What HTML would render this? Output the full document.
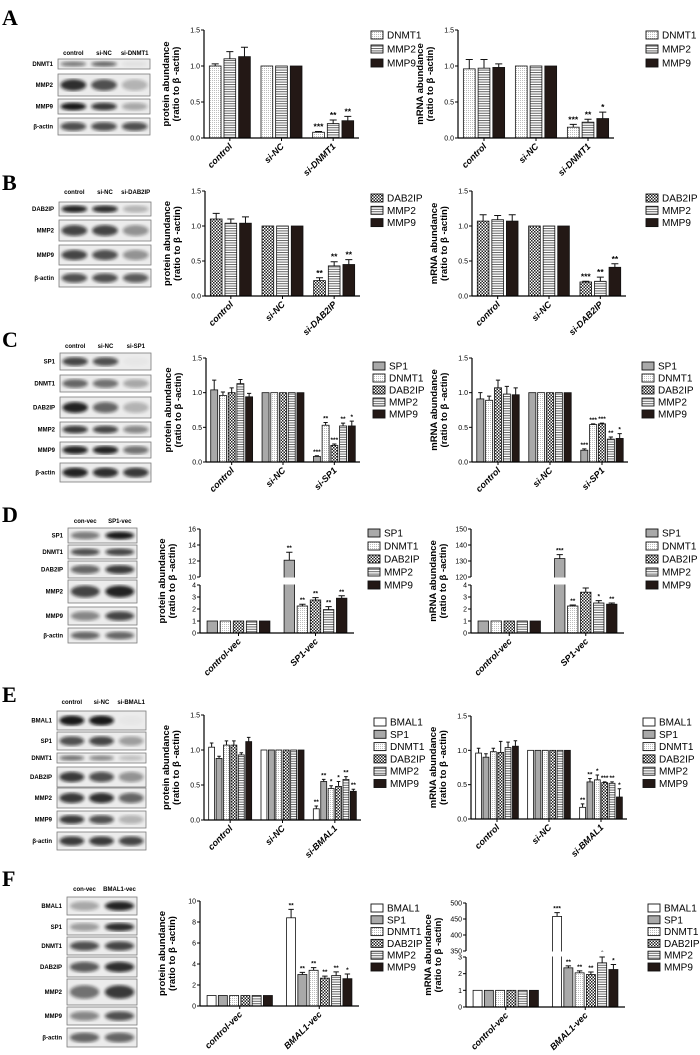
<!DOCTYPE html>
<html><head><meta charset="utf-8">
<style>
html,body{margin:0;padding:0;background:#fff;width:700px;height:1055px;overflow:hidden}
svg{display:block;font-family:"Liberation Sans",Arial,sans-serif}
</style></head>
<body>
<svg id="fig" width="700" height="1055" viewBox="0 0 700 1055" xmlns="http://www.w3.org/2000/svg">
<defs>
<pattern id="p-dots" width="2" height="2" patternUnits="userSpaceOnUse"><rect width="2" height="2" fill="#fff"/><rect width="0.8" height="0.8" fill="#999"/></pattern>
<pattern id="p-hs" width="3" height="2.4" patternUnits="userSpaceOnUse"><rect width="3" height="2.4" fill="#fff"/><rect y="0" width="3" height="1" fill="#666"/></pattern>
<pattern id="p-ck" width="3" height="3" patternUnits="userSpaceOnUse"><rect width="3" height="3" fill="#fff"/><rect width="1.5" height="1.5" fill="#222"/><rect x="1.5" y="1.5" width="1.5" height="1.5" fill="#222"/></pattern>
<filter id="blur"><feGaussianBlur stdDeviation="1.6"/></filter>
</defs>
</svg>
<script>
// ---------- data ----------
const catsA = ["control","si-NC","si-DNMT1"];
const seriesA = ["DNMT1","MMP2","MMP9"];
const aProtVals = [[1.0,1.0,0.08],[1.1,1.0,0.2],[1.13,1.0,0.24]];
const aProtErr = [[0.03,0,0.01],[0.1,0,0.05],[0.13,0,0.06]];
const aProtStars = [["","","***"],["","","**"],["","","**"]];
const aMrnaVals = [[0.96,1,0.15],[0.97,1,0.22],[0.98,1,0.27]];
const aMrnaErr = [[0.13,0,0.04],[0.12,0,0.04],[0.05,0,0.09]];
const aMrnaStars = [["","","***"],["","","**"],["","","*"]];

const catsB = ["control","si-NC","si-DAB2IP"];
const seriesB = ["DAB2IP","MMP2","MMP9"];
const bProtVals = [[1.1,1,0.22],[1.04,1,0.43],[1.04,1,0.45]];
const bProtErr = [[0.08,0,0.04],[0.06,0,0.06],[0.09,0,0.07]];
const bProtStars = [["","","**"],["","","**"],["","","**"]];
const bMrnaVals = [[1.07,1,0.2],[1.09,1,0.21],[1.07,1,0.41]];
const bMrnaErr = [[0.09,0,0.01],[0.06,0,0.06],[0.09,0,0.05]];
const bMrnaStars = [["","","***"],["","","**"],["","","**"]];

const catsC = ["control","si-NC","si-SP1"];
const seriesC = ["SP1","DNMT1","DAB2IP","MMP2","MMP9"];
const cProtVals = [[1.04,1,0.08],[0.96,1,0.53],[1.0,1,0.24],[1.13,1,0.52],[0.94,1,0.52]];
const cProtErr = [[0.14,0,0.01],[0.05,0,0.04],[0.07,0,0.02],[0.06,0,0.04],[0.05,0,0.07]];
const cProtStars = [["","","***"],["","","**"],["","","***"],["","","**"],["","","*"]];
const cMrnaVals = [[0.91,1,0.17],[0.89,1,0.54],[1.07,1,0.55],[0.98,1,0.33],[0.97,1,0.34]];
const cMrnaErr = [[0.09,0,0.02],[0.06,0,0.01],[0.11,0,0.01],[0.11,0,0.03],[0.1,0,0.07]];
const cMrnaStars = [["","","***"],["","","***"],["","","***"],["","","**"],["","","*"]];

const catsD = ["control-vec","SP1-vec"];
const seriesD = ["SP1","DNMT1","DAB2IP","MMP2","MMP9"];
const dProtVals = [[1,12.1],[1,2.25],[1,2.75],[1,1.95],[1,2.9]];
const dProtErr = [[0,1.0],[0,0.15],[0,0.2],[0,0.25],[0,0.2]];
const dProtStars = [["","**"],["","**"],["","**"],["","**"],["","**"]];
const dMrnaVals = [[1,131.5],[1,2.25],[1,3.4],[1,2.5],[1,2.4]];
const dMrnaErr = [[0,2.5],[0,0.08],[0,0.35],[0,0.2],[0,0.1]];
const dMrnaStars = [["","***"],["","**"],["","**"],["","*"],["","**"]];

const catsE = ["control","si-NC","si-BMAL1"];
const seriesE = ["BMAL1","SP1","DNMT1","DAB2IP","MMP2","MMP9"];
const eProtVals = [[1.04,1,0.16],[0.88,1,0.55],[1.07,1,0.45],[1.07,1,0.48],[0.93,1,0.58],[1.12,1,0.41]];
const eProtErr = [[0.06,0,0.04],[0.03,0,0.03],[0.06,0,0.04],[0.06,0,0.07],[0.03,0,0.04],[0.06,0,0.03]];
const eProtStars = [["","","**"],["","","**"],["","","*"],["","","*"],["","","**"],["","","**"]];
const eMrnaVals = [[0.96,1,0.17],[0.9,1,0.54],[0.98,1,0.57],[0.97,1,0.53],[1.04,1,0.52],[1.06,1,0.32]];
const eMrnaErr = [[0.07,0,0.05],[0.05,0,0.05],[0.05,0,0.07],[0.16,0,0.01],[0.08,0,0.02],[0.08,0,0.12]];
const eMrnaStars = [["","","**"],["","","**"],["","","*"],["","","***"],["","","**"],["","","*"]];

const catsF = ["control-vec","BMAL1-vec"];
const seriesF = ["BMAL1","SP1","DNMT1","DAB2IP","MMP2","MMP9"];
const fProtVals = [[1,8.4],[1,3.0],[1,3.4],[1,2.65],[1,2.9],[1,2.6]];
const fProtErr = [[0,0.8],[0,0.2],[0,0.25],[0,0.2],[0,0.35],[0,0.45]];
const fProtStars = [["","**"],["","**"],["","**"],["","**"],["","**"],["","*"]];
const fMrnaVals = [[1,458],[1,2.35],[1,2.05],[1,1.95],[1,2.65],[1,2.25]];
const fMrnaErr = [[0,12],[0,0.12],[0,0.12],[0,0.15],[0,0.35],[0,0.3]];
const fMrnaStars = [["","***"],["","**"],["","**"],["","**"],["","*"],["","*"]];

const ticks15 = [0,0.5,1.0,1.5];
const ticksD1lo = [0,1,2,3,4];
const ticksD1hi = [10,12,14,16];
const ticksD2hi = [120,130,140,150];
const ticksF1 = [0,2,4,6,8,10];
const ticksF2lo = [0,1,2,3];
const ticksF2hi = [350,400,450,500];

// ---------- drawing ----------
const NS = "http://www.w3.org/2000/svg";
const svg = document.getElementById("fig");
function mk(tag, attrs, parent){
  const e = document.createElementNS(NS, tag);
  for (const k in attrs) e.setAttribute(k, attrs[k]);
  (parent || svg).appendChild(e);
  return e;
}
function fill(name){
  return {DNMT1:"url(#p-dots)",MMP2:"url(#p-hs)",MMP9:"#231815",DAB2IP:"url(#p-ck)",SP1:"#a9a9a9",BMAL1:"#fff"}[name];
}

function chart(c){
  const g = mk("g", {});
  
  
  const segs = c.segs;
  function y(v){
    for (let i = 0; i < segs.length; i++){
      const s = segs[i];
      if (v <= s.d1 || i === segs.length - 1){
        if (v < s.d0 && i > 0) return segs[i-1].p1;
        return s.p0 + (v - s.d0) / (s.d1 - s.d0) * (s.p1 - s.p0);
      }
    }
  }
  const y0 = y(0);
  const n = c.cats.length, k = c.series.length;
  const gw = (c.xEnd - c.ax) / n, span = gw * 0.85, step = span / k, bw = step * 0.8;
  for (let i = 0; i < n; i++){
    for (let j = 0; j < k; j++){
      const v = c.vals[j][i], e = c.errs[j][i];
      const x = c.ax + gw * (i + 0.5) - span / 2 + step * j + (step - bw) / 2;
      const top = y(v);
      const r = mk("rect", {x:x.toFixed(2), y:top.toFixed(2), width:bw.toFixed(2), height:(y0-top).toFixed(2), fill:fill(c.series[j]), stroke:"#111", "stroke-width":"0.8"}, g);
      
      
      const cx = x + bw / 2;
      if (e > 0){
        const ye = y(v + e);
        const eb = mk("path", {d:`M${cx} ${top}V${ye}M${cx-bw*0.3} ${ye}H${cx+bw*0.3}`, stroke:"#111", "stroke-width":"1", fill:"none"}, g);
        
        
      }
      const st = c.stars[j][i];
      if (st){
        const t = mk("text", {x:cx, y:(y(v+e)-2).toFixed(1), "font-size": k > 3 ? "6.5" : "8.5", "text-anchor":"middle", "font-weight":"bold"}, g);
        t.textContent = st;
        
        
      }
    }
  }
  if (segs.length > 1){
    const br = mk("rect", {x:c.ax-5, y:segs[1].p0+0.5, width:c.xEnd-c.ax+6, height:segs[0].p1-segs[1].p0-1, fill:"#fff"}, g);
    
    
  }
  segs.forEach(s => {
    const ya = mk("line", {x1:c.ax, x2:c.ax, y1:s.p0, y2:s.p1, stroke:"#000", "stroke-width":"1.2"}, g);
    
    
    s.ticks.forEach(tv => {
      const ty = s.p0 + (tv - s.d0) / (s.d1 - s.d0) * (s.p1 - s.p0);
      mk("line", {x1:c.ax-3, x2:c.ax, y1:ty, y2:ty, stroke:"#000", "stroke-width":"1"}, g);
      const tl = mk("text", {x:c.ax-4, y:ty+2.5, "font-size":"7", "text-anchor":"end"}, g);
      tl.textContent = s.fmt ? tv.toFixed(1) : String(tv);
      
      
    });
  });
  const xa = mk("line", {x1:c.ax, x2:c.xEnd, y1:y0, y2:y0, stroke:"#000", "stroke-width":"1.2"}, g);
  
  
  for (let i = 0; i < n; i++){
    const cx = c.ax + gw * (i + 0.5);
    mk("line", {x1:cx, x2:cx, y1:y0, y2:y0+3, stroke:"#000", "stroke-width":"1"}, g);
    const xl = mk("text", {x:cx+3, y:y0+9, "font-size":"9", "font-weight":"bold", "font-style":"italic", "text-anchor":"end", transform:`rotate(-45 ${cx+3} ${y0+9})`}, g);
    xl.textContent = c.cats[i];
    
    
  }
  const ym = (y0 + segs[segs.length-1].p1) / 2;
  [[c.ylab[0], c.ax-35],[c.ylab[1], c.ax-25]].forEach(([txt, tx]) => {
    const t = mk("text", {x:tx, y:ym, "font-size":"9.5", "font-weight":"bold", "text-anchor":"middle", transform:`rotate(-90 ${tx} ${ym})`}, g);
    t.textContent = txt;
    
    
  });
  c.series.forEach((s, j) => {
    const ly = c.legY + j * c.legStep;
    const lb = mk("rect", {x:c.legX, y:ly-4, width:12, height:8, fill:fill(s), stroke:"#111", "stroke-width":"0.9"}, g);
    
    
    const lt = mk("text", {x:c.legX+16, y:ly+3.5, "font-size":"10"}, g);
    lt.textContent = s;
    
    
  });
}

function blot(b){
  const g = mk("g", {});
  
  
  const w = b.x1 - b.x0, nl = b.header.length;
  const lanes = b.header.map((h, i) => b.x0 + w * (2*i + 1) / (2*nl));
  b.header.forEach((h, i) => {
    const t = mk("text", {x:lanes[i], y:b.hy, "font-size":"6", "font-weight":"bold", "text-anchor":"middle"}, g);
    t.textContent = h;
    
    
  });
  b.rows.forEach((r, ri) => {
    const [name, y0, y1, ints] = r;
    const cid = b.name + "-c" + ri;
    const cp = mk("clipPath", {id:cid}, g);
    mk("rect", {x:b.x0, y:y0, width:w, height:y1-y0}, cp);
    const box = mk("rect", {x:b.x0, y:y0, width:w, height:y1-y0, fill:"#ececec", stroke:"#7a7a7a", "stroke-width":"0.8"}, g);
    
    
    const bg = mk("g", {"clip-path":`url(#${cid})`}, g);
    ints.forEach((v, i) => {
      mk("ellipse", {cx:lanes[i], cy:(y0+y1)/2, rx:w/nl*0.42, ry:Math.max(2.5,(y1-y0)*0.26), fill:"#111", opacity:v, filter:"url(#blur)"}, bg);
    });
    const t = mk("text", {x:b.x0-5, y:(y0+y1)/2+2, "font-size":"6", "font-weight":"bold", "text-anchor":"end"}, g);
    t.textContent = name;
    
    
  });
}

function letter(ch, x, y){
  const t = mk("text", {x:x, y:y, "font-size":"22", "font-weight":"bold", "font-family":"Liberation Serif, serif"});
  t.textContent = ch;
  
  
}

const PL = ["protein abundance","(ratio to β -actin)"];
const ML = ["mRNA abundance","(ratio to β -actin)"];
function seg(d0,d1,p0,p1,ticks,fmt){ return {d0:d0,d1:d1,p0:p0,p1:p1,ticks:ticks,fmt:fmt}; }

letter("A", 2, 25);
blot({name:"blot-a", x0:58, x1:150, hy:55, header:["control","si-NC","si-DNMT1"], rows:[
  ["DNMT1",59,69,[0.5,0.6,0.05]],["MMP2",74,96,[0.85,0.7,0.25]],["MMP9",99,114,[0.95,0.8,0.3]],["β-actin",118,135,[0.7,0.7,0.7]]]});
chart({name:"chart-a-protein", ax:204, xEnd:359, segs:[seg(0,1.5,138,30,ticks15,true)], cats:catsA, series:seriesA, vals:aProtVals, errs:aProtErr, stars:aProtStars, ylab:PL, legX:371, legY:35, legStep:14});
chart({name:"chart-a-mrna", ax:458, xEnd:614, segs:[seg(0,1.5,138,30,ticks15,true)], cats:catsA, series:seriesA, vals:aMrnaVals, errs:aMrnaErr, stars:aMrnaStars, ylab:ML, legX:646, legY:35, legStep:14});

letter("B", 2, 190);
blot({name:"blot-b", x0:59, x1:151, hy:194, header:["control","si-NC","si-DAB2IP"], rows:[
  ["DAB2IP",202,216,[0.9,0.85,0.25]],["MMP2",220,241,[0.75,0.75,0.4]],["MMP9",245,265,[0.75,0.7,0.4]],["β-actin",269,287,[0.7,0.7,0.65]]]});
chart({name:"chart-b-protein", ax:205, xEnd:360, segs:[seg(0,1.5,296,191,ticks15,true)], cats:catsB, series:seriesB, vals:bProtVals, errs:bProtErr, stars:bProtStars, ylab:PL, legX:371, legY:198, legStep:12.3});
chart({name:"chart-b-mrna", ax:472, xEnd:626, segs:[seg(0,1.5,296,191,ticks15,true)], cats:catsB, series:seriesB, vals:bMrnaVals, errs:bMrnaErr, stars:bMrnaStars, ylab:ML, legX:646, legY:198, legStep:12.3});

letter("C", 2, 347);
blot({name:"blot-c", x0:60, x1:151, hy:348, header:["control","si-NC","si-SP1"], rows:[
  ["SP1",353,370,[0.75,0.7,0.02]],["DNMT1",375,392,[0.6,0.55,0.3]],["DAB2IP",397,418,[0.9,0.6,0.25]],["MMP2",422,437,[0.8,0.75,0.45]],["MMP9",442,458,[0.9,0.9,0.55]],["β-actin",463,482,[0.9,0.85,0.8]]]});
chart({name:"chart-c-protein", ax:206, xEnd:360, segs:[seg(0,1.5,462,358,ticks15,true)], cats:catsC, series:seriesC, vals:cProtVals, errs:cProtErr, stars:cProtStars, ylab:PL, legX:373, legY:366, legStep:12});
chart({name:"chart-c-mrna", ax:472, xEnd:628, segs:[seg(0,1.5,462,358,ticks15,true)], cats:catsC, series:seriesC, vals:cMrnaVals, errs:cMrnaErr, stars:cMrnaStars, ylab:ML, legX:642, legY:366, legStep:12});

letter("D", 2, 522);
blot({name:"blot-d", x0:68, x1:137, hy:523, header:["con-vec","SP1-vec"], rows:[
  ["SP1",528,543,[0.5,0.95]],["DNMT1",545,559,[0.7,0.75]],["DAB2IP",561,578,[0.6,0.8]],["MMP2",580,603,[0.75,0.9]],["MMP9",607,625,[0.45,0.75]],["β-actin",628,643,[0.6,0.6]]]});
chart({name:"chart-d-protein", ax:200, xEnd:354, segs:[seg(0,4,633,585,ticksD1lo,false), seg(10,16,577,529,ticksD1hi,false)], cats:catsD, series:seriesD, vals:dProtVals, errs:dProtErr, stars:dProtStars, ylab:PL, legX:368, legY:533, legStep:13});
chart({name:"chart-d-mrna", ax:471, xEnd:624, segs:[seg(0,4,633,585,ticksD1lo,false), seg(120,150,577,529,ticksD2hi,false)], cats:catsD, series:seriesD, vals:dMrnaVals, errs:dMrnaErr, stars:dMrnaStars, ylab:ML, legX:646, legY:533, legStep:13});

letter("E", 2, 702);
blot({name:"blot-e", x0:57, x1:146, hy:704, header:["control","si-NC","si-BMAL1"], rows:[
  ["BMAL1",711,730,[0.95,0.95,0.02]],["SP1",732,750,[0.7,0.75,0.35]],["DNMT1",753,763,[0.55,0.45,0.2]],["DAB2IP",767,787,[0.8,0.7,0.4]],["MMP2",788,808,[0.8,0.85,0.6]],["MMP9",811,828,[0.8,0.7,0.25]],["β-actin",832,850,[0.8,0.8,0.75]]]});
chart({name:"chart-e-protein", ax:204, xEnd:361, segs:[seg(0,1.5,820,715,ticks15,true)], cats:catsE, series:seriesE, vals:eProtVals, errs:eProtErr, stars:eProtStars, ylab:PL, legX:374, legY:722, legStep:12.3});
chart({name:"chart-e-mrna", ax:471, xEnd:627, segs:[seg(0,1.5,819,716,ticks15,true)], cats:catsE, series:seriesE, vals:eMrnaVals, errs:eMrnaErr, stars:eMrnaStars, ylab:ML, legX:643, legY:722, legStep:12.3});

letter("F", 2, 886);
blot({name:"blot-f", x0:67, x1:137, hy:891, header:["con-vec","BMAL1-vec"], rows:[
  ["BMAL1",897,915,[0.3,0.9]],["SP1",919,935,[0.35,0.85]],["DNMT1",937,955,[0.7,0.75]],["DAB2IP",957,977,[0.65,0.85]],["MMP2",979,1005,[0.55,0.8]],["MMP9",1007,1025,[0.45,0.7]],["β-actin",1028,1047,[0.6,0.6]]]});
chart({name:"chart-f-protein", ax:200, xEnd:359, segs:[seg(0,10,1006,901,ticksF1,false)], cats:catsF, series:seriesF, vals:fProtVals, errs:fProtErr, stars:fProtStars, ylab:PL, legX:371, legY:908, legStep:11.8});
chart({name:"chart-f-mrna", ax:466, xEnd:625, segs:[seg(0,3,1007,957,ticksF2lo,false), seg(350,500,951,903,ticksF2hi,false)], cats:catsF, series:seriesF, vals:fMrnaVals, errs:fMrnaErr, stars:fMrnaStars, ylab:ML, legX:648, legY:908, legStep:11.8});
</script>
</body></html>
